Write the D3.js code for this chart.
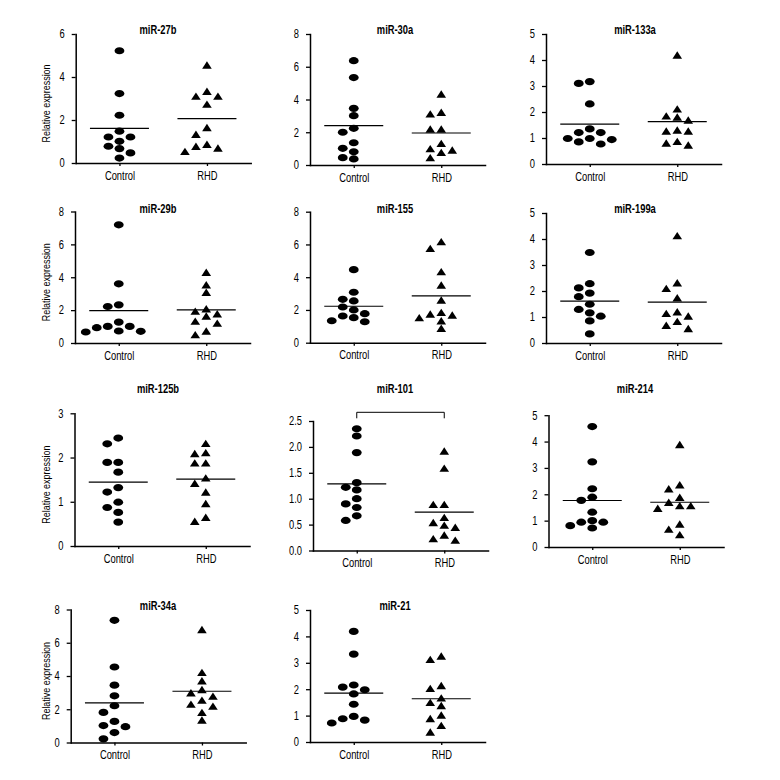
<!DOCTYPE html>
<html><head><meta charset="utf-8">
<script src="https://cdn.jsdelivr.net/npm/d3@7"></script>
<style>
body{margin:0;background:#fff;}
svg{display:block;}
text{font-family:"Liberation Sans",Arial,sans-serif;fill:#000;}
</style></head><body>
<svg id="chart" width="780" height="780"></svg>
<script>
// ---------- DATA ----------
const groups = ["Control", "RHD"];
const panelTitles = ["miR-27b","miR-30a","miR-133a","miR-29b","miR-155","miR-199a","miR-125b","miR-101","miR-214","miR-34a","miR-21"];
const yMax  = [6, 8, 5, 8, 8, 5, 3, 2.5, 5, 8, 5];
const yStep = [2, 2, 1, 2, 2, 1, 1, 0.5, 1, 2, 1];
const yLabel = "Relative expression";

const mir27bControl  = [5.22, 3.23, 2.22, 1.48, 1.21, 1.21, 1.01, 0.78, 0.67, 0.47, 0.23];
const mir27bRHD      = [4.56, 3.34, 3.11, 3.11, 2.74, 1.65, 1.34, 0.87, 0.78, 0.70, 0.54];
const mir30aControl  = [6.37, 5.34, 3.46, 3.01, 2.24, 2.00, 1.36, 1.02, 0.81, 0.45, 0.37];
const mir30aRHD      = [4.34, 3.22, 3.12, 2.20, 2.20, 1.32, 1.00, 0.92, 0.77, 0.45];
const mir133aControl = [3.17, 3.10, 2.31, 1.35, 1.21, 1.21, 0.98, 0.98, 0.94, 0.85, 0.77];
const mir133aRHD     = [4.19, 2.12, 1.85, 1.81, 1.69, 1.31, 1.27, 1.27, 0.87, 0.81, 0.73];
const mir29bControl  = [7.19, 3.60, 2.32, 2.22, 1.27, 1.01, 1.01, 0.93, 0.73, 0.71, 0.67];
const mir29bRHD      = [4.30, 3.54, 3.09, 2.08, 1.94, 1.78, 1.64, 1.33, 1.21, 0.73, 0.51];
const mir155Control  = [4.46, 3.08, 2.65, 2.55, 2.18, 2.00, 1.77, 1.63, 1.53, 1.34, 1.28];
const mir155RHD      = [6.17, 5.76, 4.34, 3.52, 2.61, 1.85, 1.75, 1.69, 1.53, 1.34, 0.88];
const mir199aControl = [3.48, 2.28, 2.12, 1.92, 1.78, 1.49, 1.29, 1.16, 1.03, 0.85, 0.35];
const mir199aRHD     = [4.13, 2.32, 2.10, 1.74, 1.20, 1.14, 1.04, 0.83, 0.68, 0.56];
const mir125bControl = [2.44, 2.31, 1.89, 1.89, 1.67, 1.32, 1.22, 0.99, 0.87, 0.76, 0.54];
const mir125bRHD     = [2.32, 2.11, 2.09, 1.88, 1.88, 1.54, 1.42, 1.22, 0.96, 0.65, 0.56];
const mir101Control  = [2.35, 2.21, 1.89, 1.31, 1.22, 1.17, 1.00, 0.90, 0.83, 0.67, 0.58];
const mir101RHD      = [1.92, 1.59, 0.89, 0.89, 0.64, 0.54, 0.49, 0.45, 0.30, 0.23, 0.20];
const mir214Control  = [4.57, 3.23, 2.21, 1.89, 1.77, 1.32, 1.00, 0.94, 0.94, 0.81, 0.72];
const mir214RHD      = [3.89, 2.36, 2.21, 1.89, 1.70, 1.57, 1.57, 1.47, 0.87, 0.68, 0.47];
const mir34aControl  = [7.35, 4.54, 3.45, 2.81, 2.21, 1.81, 1.27, 1.02, 0.95, 0.60, 0.22];
const mir34aRHD      = [6.80, 4.22, 3.71, 3.19, 2.99, 2.79, 2.55, 2.31, 2.19, 1.81, 1.35];
const mir21Control   = [4.19, 3.33, 2.16, 2.08, 1.98, 1.82, 1.43, 0.97, 0.88, 0.83, 0.72];
const mir21RHD       = [3.26, 3.13, 2.14, 2.03, 1.67, 1.50, 1.38, 1.02, 0.89, 0.63, 0.38];

const controlSeries = [mir27bControl, mir30aControl, mir133aControl, mir29bControl, mir155Control, mir199aControl,
                       mir125bControl, mir101Control, mir214Control, mir34aControl, mir21Control];
const rhdSeries = [mir27bRHD, mir30aRHD, mir133aRHD, mir29bRHD, mir155RHD, mir199aRHD,
                   mir125bRHD, mir101RHD, mir214RHD, mir34aRHD, mir21RHD];
const significantPanels = ["miR-101"];

// ---------- LAYOUT (positions, not data) ----------
const plotW = 175;
const layout = [
  {x0: 75.7, top: 34,    bottom: 163,   col: 0, titleY: 34},
  {x0: 310,  top: 34,    bottom: 165,   col: 1, titleY: 34},
  {x0: 546,  top: 34,    bottom: 164,   col: 2, titleY: 34},
  {x0: 75,   top: 211.5, bottom: 343,   col: 0, titleY: 213},
  {x0: 310,  top: 211.7, bottom: 342.7, col: 1, titleY: 213},
  {x0: 546,  top: 213,   bottom: 343,   col: 2, titleY: 213},
  {x0: 74.5, top: 413.3, bottom: 546,   col: 0, titleY: 393},
  {x0: 313,  top: 421,   bottom: 550.5, col: 1, titleY: 393},
  {x0: 548.5,top: 415.2, bottom: 547,   col: 2, titleY: 393},
  {x0: 70.7, top: 609.5, bottom: 742.5, col: 0, titleY: 610},
  {x0: 310,  top: 610,   bottom: 742,   col: 1, titleY: 610}
];
const titleX = [158, 395, 635];
const yLabelX = 49.5;
const squeeze = 0.78;

const swarmStep = 11, swarmMinDy = 7.2;
const circRx = 4.9, circRy = 3.6;
const triW = 9.6, triH = 7.4;
const meanHalf = 29.5;

const svg = d3.select("#chart");

const triangleType = {
  draw(ctx) {
    ctx.moveTo(0, -triH / 2);
    ctx.lineTo(triW / 2, triH / 2);
    ctx.lineTo(-triW / 2, triH / 2);
    ctx.closePath();
  }
};

function condense(sel) {
  sel.each(function () {
    const t = d3.select(this);
    const x = +t.attr("x") || 0, y = +t.attr("y") || 0;
    t.attr("x", 0).attr("y", 0).attr("transform", `translate(${x},${y}) scale(${squeeze},1)`);
  });
}

function swarm(values, yScale, cx) {
  const order = values.map((v, i) => i).sort((a, b) => values[b] - values[a]);
  const placed = [];
  const out = new Array(values.length);
  const cands = [0, -1, 1, -2, 2, -3, 3];
  order.forEach(i => {
    const py = yScale(values[i]);
    for (const k of cands) {
      if (!placed.some(p => p.k === k && Math.abs(p.y - py) < swarmMinDy)) {
        placed.push({k, y: py});
        out[i] = {x: cx + k * swarmStep, y: py, v: values[i]};
        break;
      }
    }
  });
  return out;
}

panelTitles.forEach((title, i) => {
  const L = layout[i];
  const g = svg.append("g");
  const y = d3.scaleLinear().domain([0, yMax[i]]).range([L.bottom, L.top]);
  const x = d3.scalePoint().domain(groups).range([L.x0, L.x0 + plotW]).padding(0.5);
  const fmt = yStep[i] < 1 ? d3.format(".1f") : d3.format("d");
  const ticks = d3.range(0, yMax[i] + yStep[i] / 2, yStep[i]);

  const ya = g.append("g")
    .attr("transform", `translate(${L.x0},0)`)
    .call(d3.axisLeft(y).tickValues(ticks).tickFormat(fmt).tickSizeInner(4).tickSizeOuter(0).tickPadding(7));
  const xa = g.append("g")
    .attr("transform", `translate(0,${L.bottom})`)
    .call(d3.axisBottom(x).tickSizeInner(3).tickSizeOuter(0).tickPadding(5));
  [ya, xa].forEach(a => {
    a.attr("font-family", null).attr("font-size", null);
    a.select(".domain").attr("stroke", "#000").attr("stroke-width", 1.5).attr("stroke-linecap", "square");
    a.selectAll(".tick line").attr("stroke", "#000").attr("stroke-width", 1.3);
    a.selectAll(".tick text").attr("font-size", 12).attr("fill", "#000").call(condense);
  });

  // title
  g.append("text")
    .attr("x", titleX[L.col]).attr("y", L.titleY)
    .attr("text-anchor", "middle")
    .attr("font-size", 12).attr("font-weight", "bold")
    .text(title).call(condense);

  if (L.col === 0) {
    g.append("text")
      .attr("transform", `translate(${yLabelX},${(L.top + L.bottom) / 2 + 5}) rotate(-90) scale(${squeeze},1)`)
      .attr("text-anchor", "middle")
      .attr("font-size", 11.5)
      .text(yLabel);
  }

  // points
  const ctrl = swarm(controlSeries[i], y, x("Control"));
  const rhd = swarm(rhdSeries[i], y, x("RHD"));
  g.selectAll("ellipse.pt").data(ctrl).join("ellipse")
    .attr("class", "pt")
    .attr("cx", d => d.x).attr("cy", d => d.y)
    .attr("rx", circRx).attr("ry", circRy).attr("fill", "#000");
  const sym = d3.symbol().type(triangleType);
  g.selectAll("path.tri").data(rhd).join("path")
    .attr("class", "tri")
    .attr("d", sym)
    .attr("transform", d => `translate(${d.x},${d.y})`)
    .attr("fill", "#000");

  // mean lines
  [["Control", controlSeries[i]], ["RHD", rhdSeries[i]]].forEach(([grp, vals]) => {
    const m = d3.mean(vals);
    g.append("line")
      .attr("x1", x(grp) - meanHalf).attr("x2", x(grp) + meanHalf)
      .attr("y1", y(m)).attr("y2", y(m))
      .attr("stroke", "#000").attr("stroke-width", 1.2);
  });

  // significance bracket
  if (significantPanels.includes(title)) {
    const by = L.top - 8.7, bh = 6;
    g.append("path")
      .attr("d", `M${x("Control")},${by + bh}V${by}H${x("RHD")}V${by + bh}`)
      .attr("fill", "none").attr("stroke", "#000").attr("stroke-width", 1);
  }
});
</script>
</body></html>
